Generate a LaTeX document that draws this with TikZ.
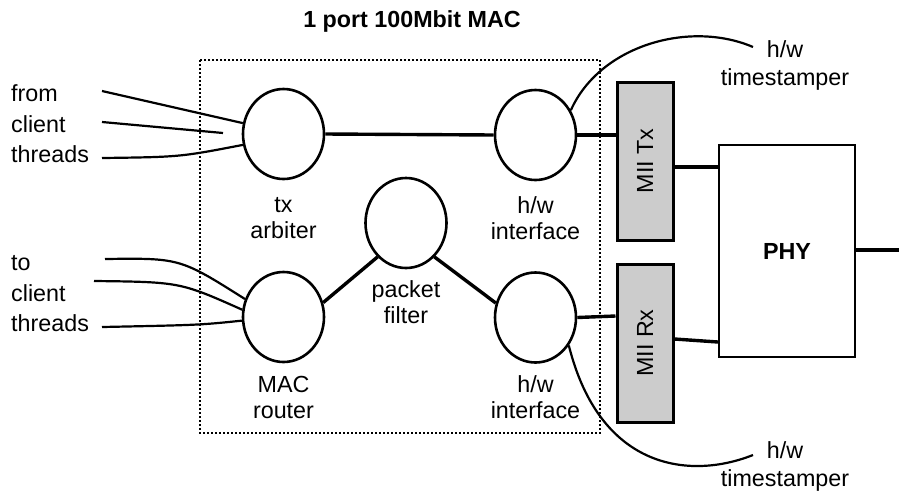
\documentclass[tikz,border=0pt]{standalone}
\usepackage{fontspec}
\setmainfont{Liberation Sans}
\usetikzlibrary{shapes.geometric}
\begin{document}
\begin{tikzpicture}[x=1pt,y=-1pt,
  proc/.style={draw,ellipse,line width=2.6pt,minimum width=81pt,minimum height=90pt,inner sep=0pt},
  lbl/.style={align=center,font=\fontsize{23.3}{26}\selectfont,inner sep=0pt},
  conn/.style={line width=3.4pt},
  thin/.style={line width=2.2pt},
  mii/.style={draw,line width=3pt,fill=black!20,minimum width=56pt,minimum height=158pt,inner sep=0pt},
]
\useasboundingbox (0,0) rectangle (899,499);
\node[lbl,font=\bfseries\fontsize{23.3}{26}\selectfont] (title) at (412,21) {1 port 100Mbit MAC};
\draw[line width=2.6pt,dash pattern=on 2pt off 2pt] (200,60) rectangle (600,433);
\node[proc] (tx) at (283.5,134) {};
\node[proc] (hwt) at (535.5,135) {};
\node[proc] (pf) at (406,223) {};
\node[proc] (rt) at (283.5,317) {};
\node[proc] (hwb) at (535.5,317.5) {};
\node[lbl] (txl) at (283.5,218) {tx\\arbiter};
\node[lbl] (hwtl) at (535.5,218) {h/w\\interface};
\node[lbl] (pfl) at (406,302) {packet\\filter};
\node[lbl] (rtl) at (283.5,397) {MAC\\router};
\node[lbl] (hwbl) at (535.5,397) {h/w\\interface};
\node[mii] (miitx) at (645,161) {};
\node[rotate=90,lbl] at (miitx.center) {MII Tx};
\node[mii] (miirx) at (645,343) {};
\node[rotate=90,lbl] at (miirx.center) {MII Rx};
\node[draw,line width=2.3pt,minimum width=136pt,minimum height=212pt,inner sep=0pt] (phy) at (787,251) {};
\node[lbl,font=\bfseries\fontsize{23.3}{26}\selectfont] at (phy.center) {PHY};
\coordinate (out) at (899,250);
\draw[conn] (phy.east |- out) -- (out);
\draw[conn] (tx.east) -- (hwt.west);
\draw[conn] (hwt.east) -- (miitx.west |- hwt.east);
\draw[conn] (miitx.east |- 0,167) -- (phy.west |- 0,167);
\draw[conn] (hwb.east) -- (miirx.west |- 0,316);
\draw[conn] (miirx.east |- 0,339) -- (phy.west |- 0,342);
\draw[conn] (rt.20) -- (pf.-130);
\draw[conn] (pf.-50) -- (hwb.160);
% timestampers
\node[lbl,anchor=north,font=\fontsize{23.3}{28.5}\selectfont] (tst) at (785,40) {h/w\\timestamper};
\node[lbl,anchor=north,font=\fontsize{23.3}{28.5}\selectfont] (tsb) at (785,441) {h/w\\timestamper};
\draw[thin] (hwt.35) .. controls (600,45) and (690,20) .. (753,47);
\draw[thin] (hwb.-40) .. controls (600,470) and (690,480) .. (753,455);
% client threads
\node[lbl,anchor=west,align=left,font=\fontsize{23.3}{30.5}\selectfont] (from) at (11,124) {from\\client\\threads};
\node[lbl,anchor=west,align=left,font=\fontsize{23.3}{30.5}\selectfont] (to) at (11,294) {to\\client\\threads};
\coordinate (f1) at (102,91);
\coordinate (f2) at (102,122);
\coordinate (f3) at (102,158);
\coordinate (f2e) at (223,133);
\draw[thin] (f1) -- (tx.165);
\draw[thin] (f2) -- (f2e);
\draw[thin] (f3) .. controls (180,157) .. (tx.-165);
\coordinate (t1) at (105,259);
\coordinate (t2) at (94,281);
\coordinate (t3) at (102,327);
\draw[thin] (t1) .. controls (180,258) .. (rt.155);
\draw[thin] (t2) .. controls (180,282) .. (rt.170);
\draw[thin] (t3) .. controls (200,325) .. (rt.-175);
\end{tikzpicture}
\end{document}
